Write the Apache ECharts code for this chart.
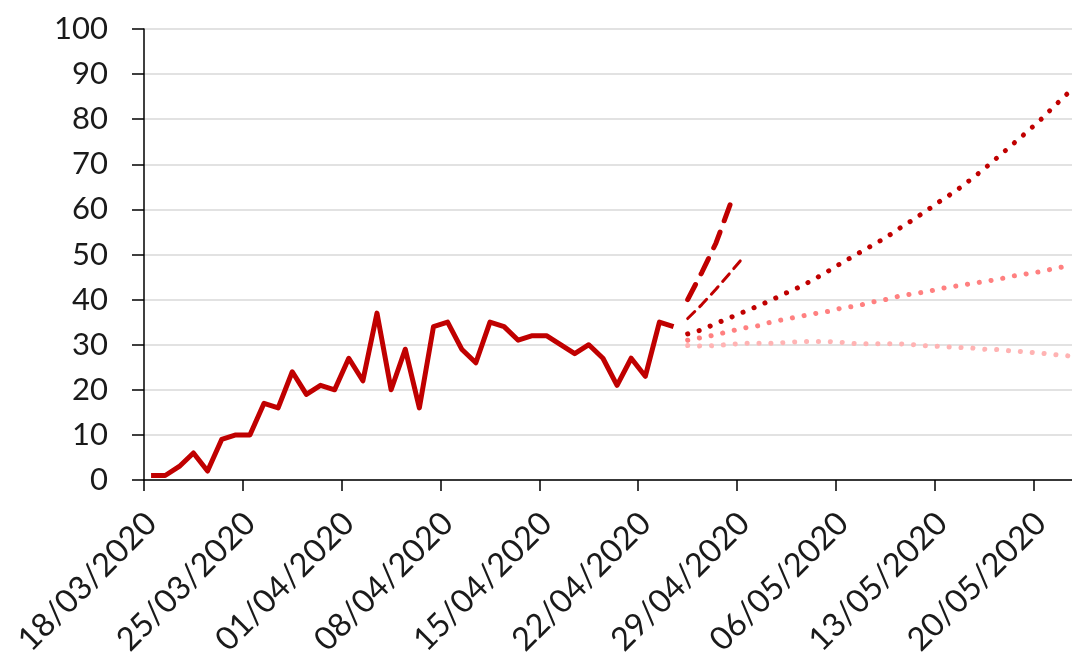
<!DOCTYPE html>
<html>
<head>
<meta charset="utf-8">
<script src="https://cdn.jsdelivr.net/npm/echarts@6/dist/echarts.min.js"></script>
<style>
html,body{margin:0;padding:0;background:#fff;overflow:hidden;width:1072px;height:660px;}
#chart{width:1076px;height:660px;}
</style>
</head>
<body>
<div id="chart"></div>
<script>
// Categories: daily dates
var categories = [
 '18/03/2020','19/03/2020','20/03/2020','21/03/2020','22/03/2020','23/03/2020','24/03/2020',
 '25/03/2020','26/03/2020','27/03/2020','28/03/2020','29/03/2020','30/03/2020','31/03/2020',
 '01/04/2020','02/04/2020','03/04/2020','04/04/2020','05/04/2020','06/04/2020','07/04/2020',
 '08/04/2020','09/04/2020','10/04/2020','11/04/2020','12/04/2020','13/04/2020','14/04/2020',
 '15/04/2020','16/04/2020','17/04/2020','18/04/2020','19/04/2020','20/04/2020','21/04/2020',
 '22/04/2020','23/04/2020','24/04/2020','25/04/2020','26/04/2020','27/04/2020','28/04/2020',
 '29/04/2020','30/04/2020','01/05/2020','02/05/2020','03/05/2020','04/05/2020','05/05/2020',
 '06/05/2020','07/05/2020','08/05/2020','09/05/2020','10/05/2020','11/05/2020','12/05/2020',
 '13/05/2020','14/05/2020','15/05/2020','16/05/2020','17/05/2020','18/05/2020','19/05/2020',
 '20/05/2020','21/05/2020','22/05/2020'
];

// Observed daily values (18/03 - 24/04)
var observed = [1,1,3,6,2,9,10,10,17,16,24,19,21,20,27,22,37,20,29,16,34,35,29,26,35,34,31,32,32,30,28,30,27,21,27,23,35,34];

// Projections starting 25/04
var projDashThick = [40,46,52.5,61];
var projDashThin = [35.8,38.9,42.3,45.9,49.6];
var projDotDark = [32.4,33.3,34.7,36.0,37.3,38.6,40.0,41.5,42.9,44.6,46.4,48.3,50.1,51.9,53.7,55.8,57.8,59.9,62.1,64.1,66.5,69.0,71.7,74.4,77.1,79.9,83.0,86.0];
var projDotMid = [31.0,31.6,32.2,33.0,33.7,34.2,35.1,35.7,36.3,36.9,37.4,38.2,38.6,39.4,40.0,40.8,41.3,41.8,42.5,43.0,43.5,44.0,44.5,45.2,45.7,46.2,46.9,47.5];
var projDotLight = [29.8,29.7,29.8,30.1,30.3,30.3,30.3,30.5,30.7,30.7,30.7,30.5,30.2,30.2,30.2,30.2,30.0,29.7,29.6,29.4,29.3,29.0,28.9,28.6,28.4,28.1,27.8,27.5];

var yTicks = [0,10,20,30,40,50,60,70,80,90,100];

var startIdx = observed.length;
function pad(arr){ var out = []; for (var i=0;i<startIdx;i++) out.push(null); return out.concat(arr); }

var FONT = 'Lato';
var chart = echarts.init(document.getElementById('chart'), null, {renderer:'canvas'});
var option = {
  animation:false,
  backgroundColor:'#ffffff',
  grid:{left:144, right:0, top:29, bottom:180, containLabel:false},
  xAxis:{
    type:'category',
    data:categories,
    boundaryGap:true,
    axisLine:{show:true, lineStyle:{color:'#000000', width:1.5}},
    axisTick:{show:true, interval:6, length:11, lineStyle:{color:'#000000', width:1.5}},
    axisLabel:{interval:6, rotate:45, margin:38, fontFamily:FONT, fontSize:32.5, color:'#1a1a1a'},
    splitLine:{show:false}
  },
  yAxis:{
    type:'value',
    min:yTicks[0], max:yTicks[yTicks.length-1], interval:10,
    axisLine:{show:true, lineStyle:{color:'#000000', width:1.5}},
    axisTick:{show:true, length:12, lineStyle:{color:'#000000', width:1.5}},
    axisLabel:{margin:36, fontFamily:FONT, fontSize:31, color:'#1a1a1a'},
    splitLine:{show:true, lineStyle:{color:'#d9d9d9', width:1.5}}
  },
  series:[
    {type:'line', data:pad(projDotLight), symbol:'none', z:2,
     lineStyle:{color:'#ffb3b3', width:5, type:[0.1,11.8], cap:'round'}},
    {type:'line', data:pad(projDotMid), symbol:'none', z:3,
     lineStyle:{color:'#ff8080', width:5, type:[0.1,11.8], cap:'round'}},
    {type:'line', data:pad(projDotDark), symbol:'none', z:4,
     lineStyle:{color:'#c00000', width:5, type:[0.1,11.8], cap:'round'}},
    {type:'line', data:pad(projDashThin), symbol:'none', z:5,
     lineStyle:{color:'#c00000', width:3, type:[10,7], cap:'round'}},
    {type:'line', data:pad(projDashThick), symbol:'none', z:6,
     lineStyle:{color:'#c00000', width:5, type:[17,12], cap:'round'}},
    {type:'line', data:observed, symbol:'none', z:7,
     lineStyle:{color:'#c00000', width:5, join:'round'}}
  ]
};
chart.setOption(option);
</script>
</body>
</html>
